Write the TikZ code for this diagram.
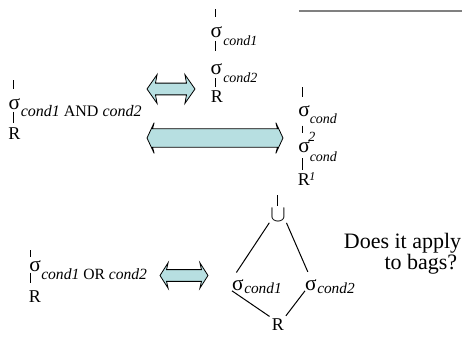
\documentclass[tikz,border=0pt]{standalone}
\usepackage{fontspec}
\setmainfont{Liberation Serif}
\usetikzlibrary{shapes.arrows}

\definecolor{flecha}{RGB}{183,223,225}
\definecolor{regla}{RGB}{128,128,128}
\newcommand{\fsig}{\fontsize{16}{16}\selectfont}
\newcommand{\frel}{\fontsize{13.5}{13.5}\selectfont}
\newcommand{\fsub}{\fontsize{10.5}{10.5}\selectfont\itshape}
\newcommand{\fpreg}{\fontsize{16.5}{13.5}\selectfont}

\begin{document}
\begin{tikzpicture}[x=0.75pt,y=-0.75pt,
    simb/.style={inner sep=0pt,font=\fsig},
    rel/.style={inner sep=0pt,anchor=base,font=\frel},
    sub/.style={inner sep=0pt,anchor=base west,font=\fsub},
    palo/.style={line width=0.75pt},
    doble/.style={draw,line width=0.6pt,fill=flecha,double arrow,
      inner xsep=0pt,double arrow head indent=1.2pt}]
    \useasboundingbox (0,0) rectangle (462,344);

    %raya de arriba
    \coordinate (reglaI) at (299,11);
    \coordinate (reglaD) at (462,11);
    \draw [regla,line width=1.1pt] (reglaI) -- (reglaD);

    %%%% cond1 sobre cond2
    \coordinate (a0) at (216,9);
    \node[simb] (a1) at (216.5,32) {σ};
    \node[sub] (a1s) at (223,45) {cond1};
    \node[simb] (a2) at (216.5,69) {σ};
    \node[sub] (a2s) at (223,82) {cond2};
    \node[rel] (aR) at (217,102) {R};
    \draw [palo,shorten >=7pt] (a0) -- (a0 |- a1.north);
    \draw [palo,shorten <=2.5pt,shorten >=9pt] (a0 |- a1.south) -- (a0 |- a2.north);
    \draw [palo,shorten <=2.5pt,shorten >=2pt] (a0 |- a2.south) -- (a0 |- aR.north);

    %%%% cond1 AND cond2
    \coordinate (b0) at (13.5,80);
    \node[simb] (b1) at (14.5,104) {σ};
    \node[sub,font=\fontsize{12}{12}\selectfont\itshape] (b1s) at (20.5,116) {cond1 {\upshape AND} cond2};
    \node[rel] (bR) at (14.5,139) {R};
    \draw [palo,shorten >=7pt] (b0) -- (b0 |- b1.north);
    \draw [palo,shorten <=1.5pt,shorten >=3pt] (b0 |- b1.south) -- (b0 |- bR.north);

    %%%% cond2 sobre cond1
    \coordinate (c0) at (303,87);
    \node[simb] (c1) at (304,111) {σ};
    \node[sub] (c1s) at (309.5,123) {cond};
    \node[sub] (c1n) at (308,141) {2};
    \node[simb] (c2) at (304,147) {σ};
    \node[sub] (c2s) at (309.5,161) {cond};
    \node[rel] (cR) at (304,185) {R};
    \node[sub,font=\fontsize{9}{9}\selectfont\itshape] (c2n) at (309,180) {1};
    \draw [palo,shorten >=6pt] (c0) -- (c0 |- c1.north);
    \draw [palo,shorten <=6.5pt,shorten >=6.5pt] (c0 |- c1.south) -- (c0 |- c2.north);
    \draw [palo,shorten <=4pt,shorten >=2.5pt] (c0 |- c2.south) -- (c0 |- cR.north);

    %%%% cond1 OR cond2
    \coordinate (e0) at (31,250);
    \node[simb] (e1) at (35,266) {σ};
    \node[sub,font=\fontsize{11.7}{11.7}\selectfont\itshape] (e1s) at (41,279) {cond1 {\upshape OR} cond2};
    \node[rel] (eR) at (35,302) {R};
    \draw [palo,shorten >=2.5pt] (e0) -- (e0 |- e1.north);
    \draw [palo,shorten <=0.5pt,shorten >=5.5pt] (e0 |- e1.south) -- (e0 |- eR.north);

    %%%% union
    \coordinate (d0) at (278,195);
    \node[inner sep=0pt,font=\fontsize{17}{17}\selectfont] (dU) at (278,215) {$\cup$};
    \node[simb] (d1) at (238,285) {σ};
    \node[sub,font=\fontsize{11.5}{11.5}\selectfont\itshape] (d1s) at (244,293) {cond1};
    \node[simb] (d2) at (311,285) {σ};
    \node[sub,font=\fontsize{11.5}{11.5}\selectfont\itshape] (d2s) at (317,293) {cond2};
    \node[rel] (dR) at (278,330) {R};
    \draw [palo,shorten >=2pt] (d0) -- (dU.north);
    \draw [palo,shorten <=1pt,shorten >=6pt] (dU.south west) -- (d1.north west);
    \draw [palo,shorten <=1pt,shorten >=6pt] (dU.south east) -- (d2.north);
    \draw [palo,shorten >=2pt] (d1.south west) -- (dR.north west);
    \draw [palo,shorten >=2pt] (d2.south west) -- (dR.north east);

    %flechas
    \node[doble,minimum height=36pt,inner ysep=4.1pt,
      double arrow head extend=6.4pt,double arrow tip angle=110] (fA) at (171,89) {};
    \node[doble,minimum height=102pt,inner ysep=6.6pt,
      double arrow head extend=4.6pt,double arrow tip angle=130] (fB) at (215,138) {};
    \node[doble,minimum height=36pt,inner ysep=4.1pt,
      double arrow head extend=5.2pt,double arrow tip angle=115] (fC) at (184,275.5) {};

    \node[font=\fpreg,align=right,anchor=north east,inner sep=0pt] (preg)
      at (461.5,233) {Does it apply\\to bags?\hspace*{3pt}};
\end{tikzpicture}
\end{document}
